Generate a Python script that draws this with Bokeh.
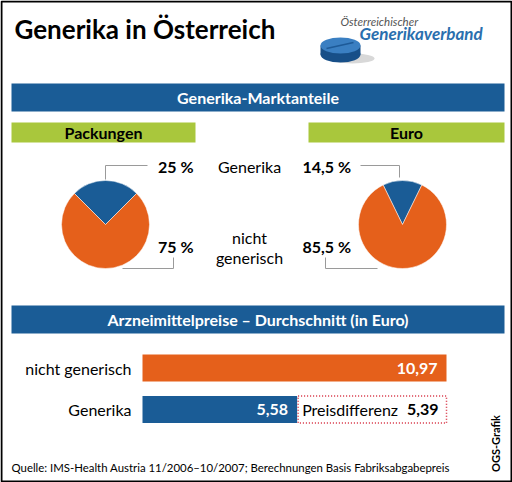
import math
from bokeh.plotting import figure
from bokeh.models import Range1d
from bokeh.core.properties import value
from bokeh.embed import file_html
from bokeh.resources import INLINE

# ---------------- data ----------------
title = "Generika in Österreich"
banner1 = "Generika-Marktanteile"
banner2 = "Arzneimittelpreise – Durchschnitt (in Euro)"
pie_titles = ["Packungen", "Euro"]
generika_share = [25.0, 14.5]
nicht_share = [75.0, 85.5]
generika_labels = ["25 %", "14,5 %"]
nicht_labels = ["75 %", "85,5 %"]
price_categories = ["nicht generisch", "Generika"]
price_values = [10.97, 5.58]
price_labels = ["10,97", "5,58"]
diff_value = 5.39
diff_label = "5,39"
source_text = "Quelle: IMS-Health Austria 11/2006–10/2007; Berechnungen Basis Fabriksabgabepreis"

# ---------------- style ----------------
W, H = 512, 482
BLUE = "#1a5c96"
ORANGE = "#e5601b"
GREEN = "#a9c73c"
GRAY = "#9a9a9a"
RED = "#d42638"
FONT = "Lato"


def Y(y):
    return H - y


p = figure(width=W, height=H, x_range=Range1d(0, W), y_range=Range1d(0, H),
           output_backend="svg", toolbar_location=None, min_border=0,
           outline_line_color=None, background_fill_color="white")
p.axis.visible = False
p.grid.visible = False


def txt(x, y, s, size, color="black", bold=False, align="left", italic=False, angle=0.0, baseline="middle"):
    style = "normal"
    if bold and italic:
        style = "bold italic"
    elif bold:
        style = "bold"
    elif italic:
        style = "italic"
    p.text(x=[x], y=[Y(y)], text=[s], text_font=value(FONT), text_font_size=f"{size}px",
           text_font_style=style, text_color=color, text_align=align,
           text_baseline=baseline, angle=angle)


# frame
p.rect(x=[W / 2], y=[H / 2], width=[W - 2], height=[H - 2], fill_color=None,
       line_color="black", line_width=2)

# title
txt(14, 28, title, 26, bold=True)

# logo
p.ellipse(x=[352], y=[Y(58)], width=[44], height=[10], fill_color="#d8d8d8", line_color=None)
p.ellipse(x=[340], y=[Y(54)], width=[40], height=[16], fill_color="#174f88", line_color=None)
p.quad(left=[320], right=[360], top=[Y(45)], bottom=[Y(54)], fill_color="#174f88", line_color=None)
p.ellipse(x=[340], y=[Y(45)], width=[40], height=[16], fill_color="#3a7fc2", line_color=None)
p.segment(x0=[326], y0=[Y(48)], x1=[353], y1=[Y(42)], line_color="#1d5a98", line_width=1.5)
txt(340, 21, "Österreichischer", 11.5, color="#555555", italic=True)
txt(359, 33, "Generikaverband", 17, color="#2a6fae", bold=True, italic=True)

# banner 1
p.quad(left=[11], right=[504], top=[Y(83)], bottom=[Y(111)], fill_color=BLUE, line_color=None)
txt(257.5, 97, banner1, 16, color="white", bold=True, align="center")

# green headers
green_boxes = [(11, 195), (308, 504)]
for (l, r), t in zip(green_boxes, pie_titles):
    p.quad(left=[l], right=[r], top=[Y(122)], bottom=[Y(142)], fill_color=GREEN, line_color=None)
    txt((l + r) / 2, 132, t, 16, bold=True, align="center")

# pies
pie_cx = [105, 402]
pie_cy = 224
R = 44
for cx, g, n in zip(pie_cx, generika_share, nicht_share):
    tot = g + n
    half = math.pi * g / tot
    p.wedge(x=[cx], y=[Y(pie_cy)], radius=R, start_angle=math.pi / 2 - half,
            end_angle=math.pi / 2 + half, fill_color=BLUE, line_color="white", line_width=0.5)
    p.wedge(x=[cx], y=[Y(pie_cy)], radius=R, start_angle=math.pi / 2 + half,
            end_angle=math.pi / 2 - half + 2 * math.pi, fill_color=ORANGE, line_color="white", line_width=0.5)

# leader lines
p.multi_line(xs=[[105, 105, 147], [122, 173, 173], [360, 399, 399], [325, 325, 377]],
             ys=[[Y(179), Y(165), Y(165)], [Y(268), Y(268), Y(257)],
                 [Y(165), Y(165), Y(177)], [Y(257), Y(268), Y(268)]],
             line_color=GRAY, line_width=1)

# share labels
txt(193, 166, generika_labels[0], 16, bold=True, align="right")
txt(193, 246, nicht_labels[0], 16, bold=True, align="right")
txt(302, 166, generika_labels[1], 16, bold=True, align="left")
txt(302, 246, nicht_labels[1], 16, bold=True, align="left")
txt(249, 166, "Generika", 16, align="center")
txt(249, 237, "nicht", 16, align="center")
txt(249, 257, "generisch", 16, align="center")

# banner 2
p.quad(left=[11], right=[504], top=[Y(305)], bottom=[Y(333)], fill_color=BLUE, line_color=None)
txt(257.5, 319, banner2, 16, color="white", bold=True, align="center")

# price bars
X0 = 142
SCALE = (446 - 142) / price_values[0]
bar_y = [367.5, 409]
bar_h = 27
bar_colors = [ORANGE, BLUE]
for v, yc, c, lab, cat in zip(price_values, bar_y, bar_colors, price_labels, price_categories):
    p.hbar(y=[Y(yc)], left=[X0], right=[X0 + v * SCALE], height=bar_h, fill_color=c, line_color=None)
    txt(X0 + v * SCALE - 9, yc, lab, 16, color="white", bold=True, align="right")
    txt(131, yc, cat, 16, align="right")

# price difference box
gx = X0 + price_values[1] * SCALE
dx = gx + diff_value * SCALE
p.quad(left=[gx + 1], right=[dx], top=[Y(395.5)], bottom=[Y(422.5)], fill_color=None,
       line_color=RED, line_width=1.5, line_dash="1 2")
txt(gx + 5, 409, "Preisdifferenz", 16, align="left")
txt(dx - 8, 409, diff_label, 16, bold=True, align="right")

# source & credit
txt(11, 467, source_text, 11.4, align="left")
txt(495, 443, "OGS-Grafik", 11, bold=True, align="center", angle=math.pi / 2)

open("out.html", "w").write(file_html(p, INLINE))
